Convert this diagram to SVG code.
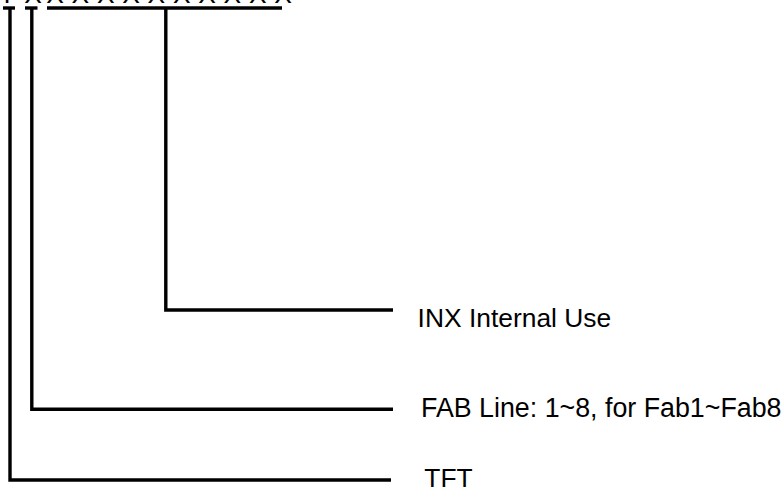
<svg xmlns="http://www.w3.org/2000/svg" width="783" height="495" viewBox="0 0 783 495">
<style>
.ln{fill:none;stroke:#000;stroke-width:3.4;stroke-linejoin:miter;stroke-linecap:butt}
.t{font-family:"Liberation Sans",Arial,sans-serif;font-size:26.4px;fill:#000}
</style>
<rect width="783" height="495" fill="#fff"/>
<g id="code">
<text class="t" y="3" x="-1 15 24.3 41.6 46.3 63.6 71.6 89 97 114.3 122.3 139.6 147.6 165 173 190.3 198.3 215.6 223.6 241 249 266.3 274.3">T X X X X X X X X X X X</text>
</g>
<g id="connectors">
<line class="ln" x1="3" y1="8" x2="15" y2="8"/>
<line class="ln" x1="25" y1="8" x2="37.5" y2="8"/>
<line class="ln" x1="47" y1="8" x2="282" y2="8"/>
<polyline class="ln" points="10,8 10,480 391,480"/>
<polyline class="ln" points="31.8,8 31.8,409.3 393,409.3"/>
<polyline class="ln" points="165.8,8 165.8,310 393,310"/>
</g>
<g id="inx"><text class="t" x="417.6" y="327">INX Internal Use</text></g>
<g id="fab"><text class="t" x="421" y="417" style="font-size:26.8px">FAB Line: 1~8, for Fab1~Fab8</text></g>
<g id="tft"><text class="t" x="424.3" y="487">TFT</text></g>
</svg>
